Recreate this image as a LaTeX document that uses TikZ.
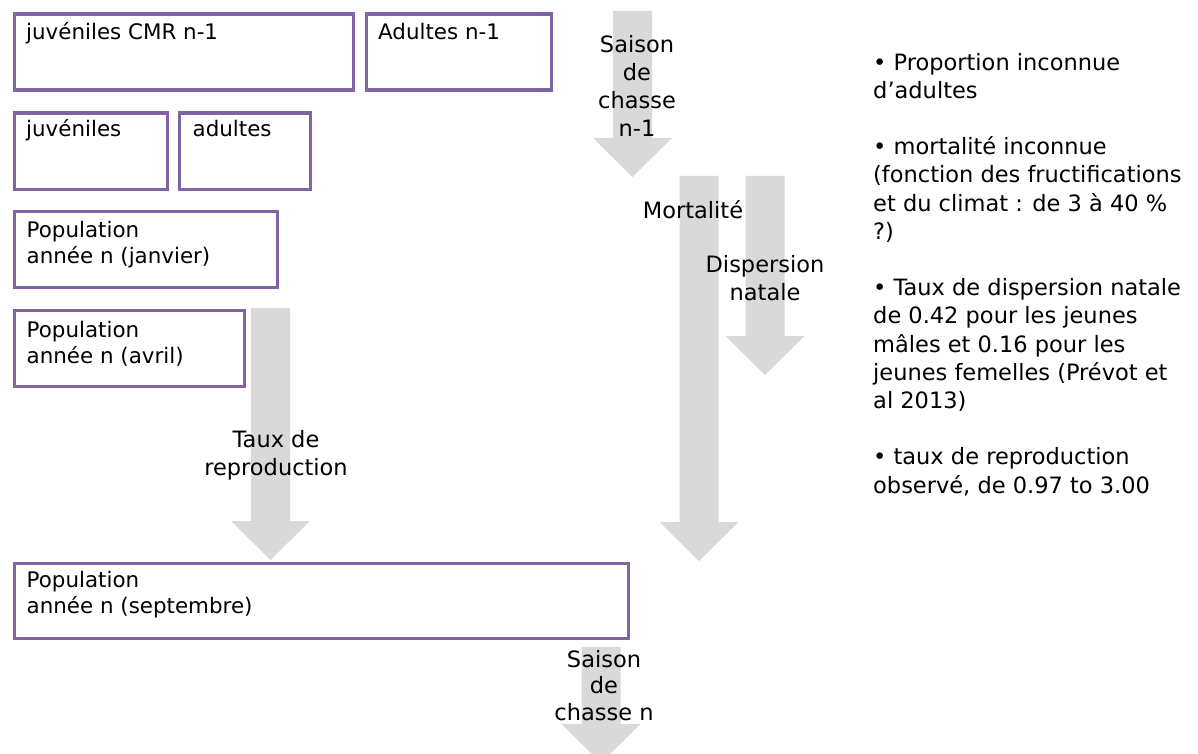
\documentclass[tikz,border=0pt]{standalone}
\usepackage{fontspec}
\setmainfont{DejaVu Sans}
\usepackage{xcolor}
\definecolor{boxpurple}{HTML}{8064A2}
\definecolor{arrowgray}{HTML}{D9D9D9}

% block arrow pointing down: centre x, top y, tip y
\newcommand\grayarrow[3]{%
  \fill[arrowgray] (#1-19.5,#2) -- (#1+19.5,#2) -- (#1+19.5,#3-39) -- (#1+39.5,#3-39)
    -- (#1,#3) -- (#1-39.5,#3-39) -- (#1-19.5,#3-39) -- cycle;}

\begin{document}
\begin{tikzpicture}[x=1pt,y=-1pt,
  popbox/.style={rectangle,draw=boxpurple,line width=3.2pt,anchor=north west,inner sep=0pt},
  boxtext/.style={anchor=base west,inner sep=0pt,align=left,font=\fontsize{21.4}{26}\selectfont},
  flowtext/.style={anchor=base,inner sep=0pt,align=center,font=\fontsize{22.5}{28}\selectfont}]
%\draw[help lines,step=50] (0,0) grid (1198,754);
\clip (0,0) rectangle (1198,754);

% gray arrows
\grayarrow{632.5}{11}{177}
\grayarrow{699}{176}{561}
\grayarrow{765}{176}{375}
\grayarrow{270.5}{308}{560}
\grayarrow{601}{647}{763}

\path (12.5,12.5) node(jcmr) [popbox,minimum width=339,minimum height=76] {}
(364.5,12.5) node(adn1) [popbox,minimum width=185,minimum height=76] {}
(12.5,111.5) node(juv) [popbox,minimum width=153,minimum height=76] {}
(177.5,111.5) node(adu) [popbox,minimum width=131,minimum height=76] {}
(12.5,209.5) node(popjan) [popbox,minimum width=263,minimum height=76] {}
(12.5,308.5) node(popavr) [popbox,minimum width=230,minimum height=76] {}
(12.5,561.5) node(popsep) [popbox,minimum width=614,minimum height=75] {};

% box texts (base = last line)
\node[boxtext] (jcmr-t) at ([shift={(13.5,27.5)}]jcmr.north west) {juvéniles CMR n-1};
\node[boxtext] (adn1-t) at ([shift={(13.5,27.5)}]adn1.north west) {Adultes n-1};
\node[boxtext] (juv-t) at ([shift={(13.5,25.5)}]juv.north west) {juvéniles};
\node[boxtext] (adu-t) at ([shift={(15,25.5)}]adu.north west) {adultes};
\node[boxtext] (popjan-t) at ([shift={(14,53.5)}]popjan.north west) {Population\\année n (janvier)};
\node[boxtext] (popavr-t) at ([shift={(14,54.5)}]popavr.north west) {Population\\année n (avril)};
\node[boxtext] (popsep-t) at ([shift={(14,52)}]popsep.north west) {Population\\année n (septembre)};

% labels on the arrows
\node[flowtext] (chasse1) at (637,137) {Saison\\de\\chasse\\n-1};
\node[flowtext] (mort) at (693,218) {Mortalité};
\node[flowtext] (disp) at (765,300) {Dispersion\\natale};
\node[flowtext] (repro) at (276,475) {Taux de\\reproduction};
\node[flowtext,font=\fontsize{22.5}{26.5}\selectfont] (chasse) at (604,720) {Saison\\de\\chasse n};

\node[anchor=base west,inner sep=0pt,align=left,font=\fontsize{22.5}{28.2}\selectfont] (notes) at (873,493)
{• Proportion inconnue\\d’adultes\\[28.2pt]
• mortalité inconnue\\(fonction des fructifications\\et du climat : de 3 à 40 \%\\?)\\[28.2pt]
• Taux de dispersion natale\\de 0.42 pour les jeunes\\mâles et 0.16 pour les\\jeunes femelles (Prévot et\\al 2013)\\[28.2pt]
• taux de reproduction\\observé, de 0.97 to 3.00};
\end{tikzpicture}
\end{document}
